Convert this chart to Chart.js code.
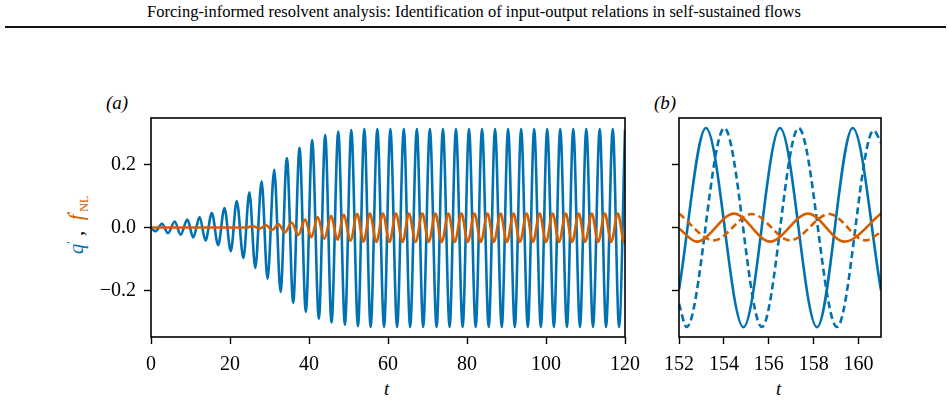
<!DOCTYPE html>
<html lang="en">
<head>
<meta charset="UTF-8">
<title>Forcing-informed resolvent analysis</title>
<script src="https://cdn.jsdelivr.net/npm/chart.js"></script>
<style>
    body {
        margin: 0;
        width: 948px;
        height: 406px;
        background: white;
        position: relative;
        overflow: hidden;
        font-family: 'Liberation Serif', serif;
        color: black;
    }
    .header {
        position: absolute;
        left: 0;
        width: 948px;
        top: 2px;
        text-align: center;
        font-size: 16.5px;
    }
    .rule {
        position: absolute;
        left: 5px;
        top: 26px;
        width: 941px;
        height: 1.5px;
        background: #111;
    }
    .box { position: absolute; }
    .lbl {
        position: absolute;
        font-style: italic;
        font-size: 19px;
    }
    .ylabel {
        position: absolute;
        left: 78px;
        top: 225px;
        transform: translate(-50%, -50%) rotate(-90deg);
        white-space: nowrap;
        font-size: 21px;
    }
    .ylabel i { font-style: italic; }
    .blue { color: #0072b2; }
    .orange { color: #d55e00; }
    .ylabel sub { font-size: 12px; font-style: normal; }
    .ylabel sup { font-size: 12px; }
</style>
</head>
<body>
<div class="header">Forcing-informed resolvent analysis: Identification of input-output relations in self-sustained flows</div>
<div class="rule"></div>

<div class="lbl" style="left:106px; top:92px;">(a)</div>
<div class="lbl" style="left:654px; top:92px;">(b)</div>
<div class="lbl" style="left:384px; top:378px;">t</div>
<div class="lbl" style="left:776px; top:378px;">t</div>
<div class="ylabel"><span class="blue"><i>q</i><sup>′</sup></span>&nbsp;,&nbsp;&nbsp;<span class="orange"><i>f</i><sup>′</sup><sub>NL</sub></span></div>

<div class="box" style="left:0; top:90px; width:720px; height:316px;"><canvas id="chartA"></canvas></div>
<div class="box" style="left:640px; top:90px; width:308px; height:316px;"><canvas id="chartB"></canvas></div>

<script>
    // panel (a): extrema of q' (blue) and f'_NL (orange)
    const qT = [0, 1.1, 2.8, 4.3, 6.0, 7.5, 9.2, 10.7, 12.3, 13.8, 15.4, 17.0, 18.6, 20.2, 21.7, 23.4, 24.9, 26.4,
        28.0, 29.5, 31.2, 32.8, 34.4, 36.0, 37.6, 39.2, 40.8, 42.5, 44.1, 45.7, 47.4, 49.1, 50.7, 52.4,
        54.0, 55.6, 57.3, 59.0, 60.6, 62.3, 64.0, 65.6, 67.3, 68.9, 70.6, 72.3, 73.9, 75.6, 77.2, 78.9,
        80.5, 82.2, 83.8, 85.5, 87.1, 88.8, 90.4, 92.1, 93.7, 95.4, 97.0, 98.7, 100.3, 102.0, 103.6, 105.3,
        106.9, 108.6, 110.2, 111.9, 113.6, 115.2, 116.9, 118.5, 120.0];
    const qV = [0, -0.012, 0.012, -0.018, 0.019, -0.023, 0.025, -0.032, 0.033, -0.041, 0.046, -0.056, 0.062, -0.075, 0.084, -0.097, 0.112, -0.129,
        0.147, -0.163, 0.183, -0.205, 0.221, -0.239, 0.253, -0.268, 0.278, -0.290, 0.294, -0.302, 0.305, -0.309, 0.310, -0.314,
        0.313, -0.316, 0.313, -0.316, 0.313, -0.316, 0.313, -0.316, 0.313, -0.316, 0.313, -0.316, 0.313, -0.316, 0.313, -0.316,
        0.313, -0.316, 0.313, -0.316, 0.313, -0.316, 0.313, -0.316, 0.313, -0.316, 0.313, -0.316, 0.313, -0.316, 0.313, -0.316,
        0.313, -0.316, 0.313, -0.316, 0.313, -0.316, 0.313, -0.316, 0.311];

    const fT = [0, 24.0, 25.9, 27.4, 29.2, 30.6, 32.3, 33.9, 35.6, 37.3, 39.0, 40.6, 42.2, 43.9, 45.6, 47.2, 48.8, 50.5, 52.2,
        53.8, 55.4, 57.1, 58.7, 60.4, 62.0, 63.7, 65.3, 67.0, 68.7, 70.3, 72.0, 73.6, 75.3, 76.9, 78.6, 80.2, 81.9,
        83.5, 85.2, 86.8, 88.5, 90.1, 91.8, 93.4, 95.1, 96.7, 98.4, 100.0, 101.7, 103.3, 105.0, 106.6, 108.3,
        109.9, 111.6, 113.2, 114.9, 116.5, 118.2, 119.8, 120.0];
    const fV = [0, 0, 0.004, -0.004, 0.007, -0.008, 0.010, -0.016, 0.016, -0.024, 0.025, -0.031, 0.033, -0.036, 0.037, -0.039, 0.040, -0.042, 0.043,
        -0.045, 0.044, -0.046, 0.044, -0.046, 0.044, -0.046, 0.044, -0.046, 0.044, -0.046, 0.044, -0.046, 0.044, -0.046, 0.044, -0.046, 0.044,
        -0.046, 0.044, -0.046, 0.044, -0.046, 0.044, -0.046, 0.044, -0.046, 0.044, -0.046, 0.044, -0.046, 0.044, -0.046, 0.044,
        -0.046, 0.044, -0.046, 0.044, -0.046, 0.044, -0.046, -0.045];

    // panel (b): zoom on 152 < t < 161, solid and dashed
    const qSolidT = [152, 153.2, 154.87, 156.5, 158.15, 159.74, 161];
    const qSolidV = [-0.197, 0.316, -0.317, 0.316, -0.317, 0.316, -0.2];
    const qDashT = [152, 152.34, 154.02, 155.69, 157.33, 159.04, 160.67, 161];
    const qDashV = [-0.242, -0.316, 0.316, -0.316, 0.316, -0.316, 0.308, 0.27];
    const fSolidT = [152, 152.8, 154.45, 156.06, 157.75, 159.37, 161];
    const fSolidV = [-0.003, -0.045, 0.044, -0.045, 0.044, -0.045, 0.044];
    const fDashT = [152, 153.55, 155.25, 156.95, 158.7, 160.3, 161];
    const fDashV = [0.044, -0.041, 0.043, -0.041, 0.043, -0.041, -0.015];

    const xTicksA = [0, 20, 40, 60, 80, 100, 120];
    const xTicksB = [152, 154, 156, 158, 160];
    const yTicks = [-0.2, 0, 0.2];
    const yTickLabels = ['−0.2', '0.0', '0.2'];

    const BLUE = '#0072b2';
    const ORANGE = '#d55e00';

    function pts(ts, vs) {
        return ts.map((t, i) => ({ x: t, y: vs[i] }));
    }

    const frame = {
        id: 'frame',
        afterDatasetsDraw(chart) {
            const a = chart.chartArea;
            const ctx = chart.ctx;
            ctx.save();
            ctx.strokeStyle = '#000';
            ctx.lineWidth = 1.6;
            ctx.strokeRect(a.left, a.top, a.right - a.left, a.bottom - a.top);
            ctx.restore();
        }
    };

    const tickFont = { family: 'Liberation Serif', size: 20 };

    function line(data, color, dash, order) {
        return {
            data: data,
            borderColor: color,
            borderWidth: 2.6,
            borderDash: dash,
            pointRadius: 0,
            cubicInterpolationMode: 'monotone',
            fill: false,
            order: order
        };
    }

    function makeOptions(xMin, xMax, xTicks, yWidth, padRight, showYLabels) {
        return {
            responsive: true,
            maintainAspectRatio: false,
            animation: false,
            events: [],
            layout: { padding: { left: 0, right: padRight, top: 28, bottom: 0 } },
            plugins: { legend: { display: false }, tooltip: { enabled: false } },
            scales: {
                x: {
                    type: 'linear',
                    min: xMin,
                    max: xMax,
                    afterBuildTicks: s => { s.ticks = xTicks.map(v => ({ value: v })); },
                    afterFit: s => { s.height = 69; },
                    border: { display: false },
                    grid: { drawOnChartArea: false, tickLength: 7, tickWidth: 1.4, tickColor: '#000' },
                    ticks: { font: tickFont, color: '#000', padding: 9, maxRotation: 0,
                        callback: v => String(v) }
                },
                y: {
                    type: 'linear',
                    min: -0.348,
                    max: 0.348,
                    afterBuildTicks: s => { s.ticks = yTicks.map(v => ({ value: v })); },
                    afterFit: s => { s.width = yWidth; },
                    border: { display: false },
                    grid: { drawOnChartArea: false, tickLength: 7, tickWidth: 1.4, tickColor: '#000' },
                    ticks: { font: tickFont, color: '#000', padding: 8,
                        callback: (v, i) => showYLabels ? yTickLabels[i] : '' }
                }
            }
        };
    }

    new Chart(document.getElementById('chartA'), {
        type: 'line',
        data: {
            datasets: [
                line(pts(fT, fV), ORANGE, [], 0),
                line(pts(qT, qV), BLUE, [], 1)
            ]
        },
        options: makeOptions(0, 120, xTicksA, 151, 95, true),
        plugins: [frame]
    });

    new Chart(document.getElementById('chartB'), {
        type: 'line',
        data: {
            datasets: [
                line(pts(fSolidT, fSolidV), ORANGE, [], 0),
                line(pts(fDashT, fDashV), ORANGE, [7, 4], 1),
                line(pts(qSolidT, qSolidV), BLUE, [], 2),
                line(pts(qDashT, qDashV), BLUE, [7, 4], 3)
            ]
        },
        options: makeOptions(152, 161, xTicksB, 39, 67, false),
        plugins: [frame]
    });
</script>
</body>
</html>
